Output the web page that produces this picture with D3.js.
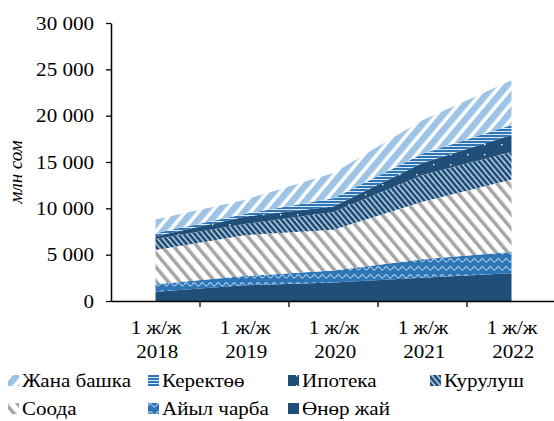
<!DOCTYPE html>
<html>
<head>
<meta charset="utf-8">
<script src="https://cdn.jsdelivr.net/npm/d3@7"></script>
<style>
  html, body { margin: 0; padding: 0; background: #fff; }
  svg { display: block; }
  text { font-family: "Liberation Serif", "Times New Roman", serif; fill: #000; }
</style>
</head>
<body>
<svg id="chart" width="554" height="421"></svg>
<script>
// Loan portfolio by sector, million som
const periods = ["2018", "2019", "2020", "2021", "2022"];
const periodPrefix = "1 ж/ж";
const seriesNames = ["Өнөр жай", "Айыл чарба", "Соода", "Курулуш", "Ипотека", "Керектөө", "Жана башка"];
const industry     = [1000, 1700, 2000, 2500, 3000];
const agriculture  = [800, 1000, 1300, 2000, 2300];
const trade        = [3700, 4400, 4400, 6200, 7800];
const construction = [1200, 1200, 1900, 2900, 3000];
const mortgage     = [300, 800, 600, 1300, 1800];
const consumer     = [300, 300, 900, 1000, 1100];
const other        = [1500, 1500, 2700, 3600, 4800];
const yTicks = [0, 5000, 10000, 15000, 20000, 25000, 30000];
const yLabel = "млн сом";

const seriesValues = [industry, agriculture, trade, construction, mortgage, consumer, other];
const rows = periods.map((p, i) => {
  const r = { period: p };
  seriesNames.forEach((n, k) => { r[n] = seriesValues[k][i]; });
  return r;
});

const svg = d3.select("#chart");
const margin = { left: 111, top: 23, bottom: 301, right: 556 };
const WIDEN = 1.17; // horizontal stretch of the serif labels

const x = d3.scaleBand().domain(periods).range([margin.left, margin.right]).padding(0);
const y = d3.scaleLinear().domain([0, 30000]).range([margin.bottom, margin.top]);

// Fill patterns
const defs = svg.append("defs");
const dark = "#1F4E79", mid = "#2E75B6", light = "#9DC3E6", grey = "#A5A5A5";

function stripePattern(id, size, bg, fg, fgWidth, angle) {
  const p = defs.append("pattern").attr("id", id)
    .attr("patternUnits", "userSpaceOnUse")
    .attr("width", size).attr("height", size)
    .attr("patternTransform", `rotate(${angle})`);
  p.append("rect").attr("width", size).attr("height", size).attr("fill", bg);
  p.append("rect").attr("width", fgWidth).attr("height", size).attr("fill", fg);
}
stripePattern("pat-other", 10, "#fff", light, 6.5, 40);
stripePattern("pat-trade", 9, "#fff", grey, 3.5, -40);
stripePattern("pat-constr", 4.2, dark, "#c9d7e6", 1.4, -40);

// consumer: horizontal light lines
{
  const p = defs.append("pattern").attr("id", "pat-cons")
    .attr("patternUnits", "userSpaceOnUse").attr("width", 6).attr("height", 3);
  p.append("rect").attr("width", 6).attr("height", 3).attr("fill", mid);
  p.append("rect").attr("y", 2).attr("width", 6).attr("height", 1).attr("fill", "#d6e6f5");
}
// mortgage: sparse white dots on dark
{
  const p = defs.append("pattern").attr("id", "pat-mort")
    .attr("patternUnits", "userSpaceOnUse").attr("width", 17).attr("height", 10);
  p.append("rect").attr("width", 17).attr("height", 10).attr("fill", dark);
  p.append("rect").attr("x", 8).attr("y", 4).attr("width", 1.4).attr("height", 1.4).attr("fill", "#fff");
}
// agriculture: light waves on blue
{
  const p = defs.append("pattern").attr("id", "pat-agri")
    .attr("patternUnits", "userSpaceOnUse").attr("width", 8).attr("height", 8);
  p.append("rect").attr("width", 8).attr("height", 8).attr("fill", mid);
  p.append("path").attr("d", "M0,5 Q2,1 4,4 T8,5")
    .attr("fill", "none").attr("stroke", light).attr("stroke-width", 1.3);
}

const fills = {
  "Өнөр жай": dark,
  "Айыл чарба": "url(#pat-agri)",
  "Соода": "url(#pat-trade)",
  "Курулуш": "url(#pat-constr)",
  "Ипотека": "url(#pat-mort)",
  "Керектөө": "url(#pat-cons)",
  "Жана башка": "url(#pat-other)"
};

const stacked = d3.stack().keys(seriesNames)(rows);
const cx = d => x(d.data.period) + x.bandwidth() / 2;
const area = d3.area().x(cx).y0(d => y(d[0])).y1(d => y(d[1]));

svg.append("g").selectAll("path").data(stacked).join("path")
  .attr("d", area)
  .attr("fill", d => fills[d.key]);

// Y axis
const fmt = v => d3.format(",")(v).replace(/,/g, " ");
const yAxis = svg.append("g").attr("transform", `translate(${margin.left},0)`)
  .call(d3.axisLeft(y).tickValues(yTicks).tickFormat(fmt).tickSize(5).tickSizeOuter(0));
yAxis.attr("font-family", null).attr("font-size", null);
yAxis.select(".domain").attr("stroke", "#000").attr("stroke-width", 1.5);
yAxis.selectAll(".tick line").attr("stroke", "#000").attr("stroke-width", 1.3);
yAxis.selectAll(".tick text")
  .attr("x", 0).attr("dy", "0.34em")
  .attr("transform", `translate(-17,0) scale(${WIDEN},1)`)
  .attr("font-size", 18).attr("fill", "#000");

// X axis: ticks at category boundaries, labels centred
const xAxis = svg.append("g").attr("transform", `translate(0,${margin.bottom})`)
  .call(d3.axisBottom(x).tickSize(6).tickSizeOuter(0).tickFormat(""));
xAxis.attr("font-family", null).attr("font-size", null);
xAxis.select(".domain").attr("stroke", "#000").attr("stroke-width", 1.5);
xAxis.selectAll(".tick line")
  .attr("x1", -x.bandwidth() / 2).attr("x2", -x.bandwidth() / 2)
  .attr("stroke", "#000").attr("stroke-width", 1.3)
  .attr("display", (d, i) => i === 0 ? "none" : null);
const xl = xAxis.selectAll(".tick").append("text")
  .attr("text-anchor", "middle").attr("font-size", 18).attr("fill", "#000")
  .attr("transform", `translate(0.5,0) scale(${WIDEN},1)`);
xl.append("tspan").attr("x", 0).attr("y", 33).text(periodPrefix);
xl.append("tspan").attr("x", 1).attr("y", 57).text(d => d);

// Y axis title
svg.append("text")
  .attr("transform", "translate(22,172) rotate(-90)")
  .attr("text-anchor", "middle").attr("font-size", 19).attr("font-style", "italic")
  .text(yLabel);

// Legend
const legendOrder = ["Жана башка", "Керектөө", "Ипотека", "Курулуш", "Соода", "Айыл чарба", "Өнөр жай"];
const colX = [8, 148, 288, 430];
const rowY = [381, 409];
const leg = svg.append("g").selectAll("g").data(legendOrder).join("g")
  .attr("transform", (d, i) => `translate(${colX[i < 4 ? i : i - 4]},${rowY[i < 4 ? 0 : 1]})`);
leg.append("rect").attr("x", 0).attr("y", -6).attr("width", 11).attr("height", 11)
  .attr("fill", d => fills[d]);
leg.append("text").attr("transform", `translate(14,6) scale(${WIDEN},1)`)
  .attr("font-size", 18).text(d => d);
</script>
</body>
</html>
